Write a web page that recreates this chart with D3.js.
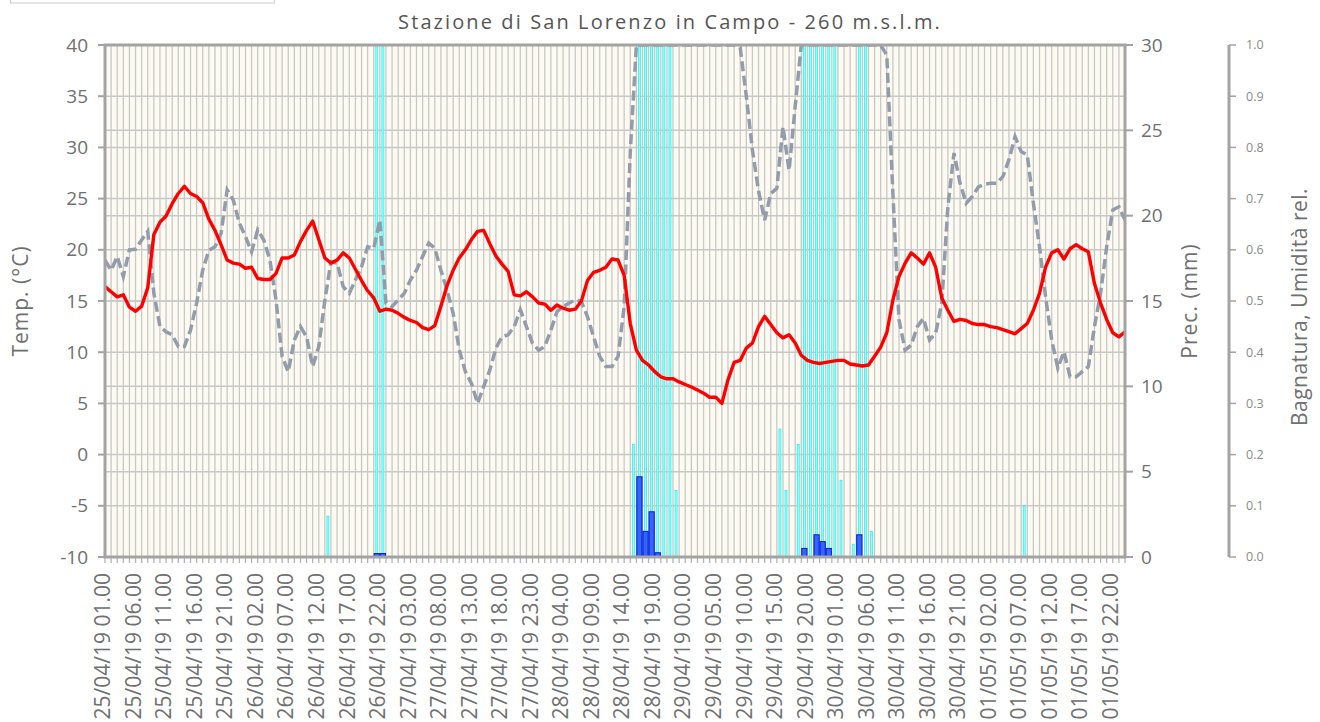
<!DOCTYPE html>
<html>
<head>
<meta charset="utf-8">
<script src="https://cdn.jsdelivr.net/npm/d3@7"></script>
<style>
  body { margin: 0; background: #fff; }
  text { font-family: "Open Sans", sans-serif; }
</style>
</head>
<body>
<div id="chart"></div>
<script>
// hourly readings from 25/04/19 01.00 to 02/05/19 00.00
var temperature = [
  16.4, 15.9, 15.4, 15.6, 14.4, 14.0, 14.5, 16.3, 21.5, 22.7,
  23.3, 24.5, 25.5, 26.2, 25.5, 25.2, 24.6, 23.0, 21.9, 20.5,
  19.0, 18.7, 18.6, 18.2, 18.3, 17.2, 17.1, 17.1, 17.7, 19.2,
  19.2, 19.5, 20.8, 21.9, 22.8, 21.0, 19.2, 18.7, 19.0, 19.7,
  19.2, 18.1, 17.0, 16.0, 15.3, 14.0, 14.2, 14.1, 13.8, 13.4,
  13.1, 12.9, 12.4, 12.2, 12.6, 14.5, 16.5, 18.0, 19.2, 20.0,
  21.0, 21.8, 21.9, 20.6, 19.4, 18.6, 17.9, 15.6, 15.5, 15.9,
  15.4, 14.8, 14.7, 14.1, 14.6, 14.3, 14.1, 14.2, 15.0, 17.0,
  17.8, 18.0, 18.3, 19.1, 19.0, 17.5, 12.8, 10.2, 9.2, 8.75,
  8.1, 7.6, 7.4, 7.4, 7.1, 6.85, 6.6, 6.3, 6.0, 5.6,
  5.6, 5.0, 7.3, 9.0, 9.2, 10.4, 10.9, 12.5, 13.5, 12.7,
  11.9, 11.4, 11.7, 10.9, 9.7, 9.2, 9.0, 8.9, 9.0, 9.1,
  9.2, 9.2, 8.85, 8.75, 8.65, 8.75, 9.6, 10.5, 11.9, 15.1,
  17.4, 18.7, 19.7, 19.2, 18.6, 19.7, 18.3, 15.3, 14.1, 13.0,
  13.2, 13.1, 12.8, 12.7, 12.7, 12.5, 12.4, 12.2, 12.0, 11.8,
  12.3, 12.8, 14.1, 15.75, 18.3, 19.7, 20.0, 19.1, 20.1, 20.5,
  20.1, 19.8, 16.7, 14.8, 13.2, 11.9, 11.5, 12.0
];

var humidity = [
  0.58, 0.56, 0.587, 0.548, 0.60, 0.601, 0.619, 0.636, 0.515, 0.45,
  0.44, 0.434, 0.411, 0.411, 0.443, 0.496, 0.56, 0.599, 0.606, 0.632,
  0.717, 0.697, 0.652, 0.626, 0.596, 0.639, 0.619, 0.58, 0.502, 0.392,
  0.362, 0.424, 0.45, 0.43, 0.372, 0.411, 0.502, 0.577, 0.574, 0.528,
  0.515, 0.541, 0.567, 0.606, 0.603, 0.658, 0.496, 0.489, 0.502, 0.515,
  0.541, 0.56, 0.587, 0.613, 0.603, 0.56, 0.521, 0.476, 0.405, 0.362,
  0.339, 0.30, 0.333, 0.365, 0.408, 0.43, 0.434, 0.45, 0.483, 0.45,
  0.417, 0.404, 0.411, 0.443, 0.479, 0.489, 0.496, 0.502, 0.499, 0.469,
  0.43, 0.392, 0.372, 0.372, 0.392, 0.489, 0.79, 1.0, 1.0, 1.0,
  1.0, 1.0, 1.0, 1.0, 1.0, 1.0, 1.0, 1.0, 1.0, 1.0,
  1.0, 1.0, 1.0, 1.0, 0.995, 0.90, 0.795, 0.715, 0.658, 0.71,
  0.72, 0.84, 0.755, 0.88, 1.0, 1.0, 1.0, 1.0, 1.0, 1.0,
  1.0, 1.0, 1.0, 1.0, 1.0, 1.0, 1.0, 1.0, 0.98, 0.71,
  0.463, 0.404, 0.414, 0.45, 0.466, 0.424, 0.437, 0.496, 0.684, 0.789,
  0.73, 0.691, 0.704, 0.723, 0.728, 0.73, 0.73, 0.743, 0.776, 0.821,
  0.792, 0.785, 0.691, 0.606, 0.508, 0.424, 0.369, 0.401, 0.352, 0.352,
  0.362, 0.372, 0.45, 0.515, 0.606, 0.678, 0.684, 0.658
];

// leaf wetness (0-1), only the hours where it is not zero
var wetHours  = [36, 44, 45, 86, 87, 88, 89, 90, 91, 92, 93, 110, 111, 113, 114, 115, 116, 117, 118, 119, 120, 122, 123, 124, 125, 150];
var wetValues = [0.08, 1, 1, 0.22, 1, 1, 1, 1, 1, 1, 0.13, 0.25, 0.13, 0.22, 1, 1, 1, 1, 1, 1, 0.15, 0.025, 1, 1, 0.05, 0.1];

// rain (mm), only the hours where it is not zero
var rainHours  = [44, 45, 87, 88, 89, 90, 114, 116, 117, 118, 123];
var rainValues = [0.2, 0.2, 4.7, 1.5, 2.65, 0.25, 0.5, 1.3, 0.9, 0.5, 1.3];

var tickLabels = [
  "25/04/19 01.00", "25/04/19 06.00", "25/04/19 11.00", "25/04/19 16.00", "25/04/19 21.00",
  "26/04/19 02.00", "26/04/19 07.00", "26/04/19 12.00", "26/04/19 17.00", "26/04/19 22.00",
  "27/04/19 03.00", "27/04/19 08.00", "27/04/19 13.00", "27/04/19 18.00", "27/04/19 23.00",
  "28/04/19 04.00", "28/04/19 09.00", "28/04/19 14.00", "28/04/19 19.00", "29/04/19 00.00",
  "29/04/19 05.00", "29/04/19 10.00", "29/04/19 15.00", "29/04/19 20.00", "30/04/19 01.00",
  "30/04/19 06.00", "30/04/19 11.00", "30/04/19 16.00", "30/04/19 21.00", "01/05/19 02.00",
  "01/05/19 07.00", "01/05/19 12.00", "01/05/19 17.00", "01/05/19 22.00"
];
var tempTicks = [-10, -5, 0, 5, 10, 15, 20, 25, 30, 35, 40];
var rainTicks = [0, 5, 10, 15, 20, 25, 30];
var wetTicks = [0, 0.1, 0.2, 0.3, 0.4, 0.5, 0.6, 0.7, 0.8, 0.9, 1.0];

var title = "Stazione di San Lorenzo in Campo - 260 m.s.l.m.";

// layout
var W = 1320, H = 722;
var plotL = 105, plotR = 1125, plotT = 45, plotB = 557;
var axis3X = 1229;
var axisGrey = "#a3a3a3", textGrey = "#707070";

var hours = d3.utcHour.range(new Date(Date.UTC(2019, 3, 25, 1)), new Date(Date.UTC(2019, 4, 2, 1)));
var parseLabel = d3.utcParse("%d/%m/%y %H.%M");

var x = d3.scaleUtc().domain([hours[0], hours[hours.length - 1]]).range([plotL, plotR]);
var yT = d3.scaleLinear().domain([-10, 40]).range([plotB, plotT]);
var yR = d3.scaleLinear().domain([0, 30]).range([plotB, plotT]);
var yW = d3.scaleLinear().domain([0, 1]).range([plotB, plotT]);

var barMid = function(i) { return x(d3.utcMinute.offset(hours[i], 30)); };

var svg = d3.select("#chart").append("svg")
  .attr("width", W).attr("height", H);

// box partly hidden at the top left
svg.append("rect").attr("x", 10.5).attr("y", -12).attr("width", 264).attr("height", 15)
  .attr("fill", "#fff").attr("stroke", "#ccc");

svg.append("text")
  .attr("x", 670).attr("y", 29)
  .attr("text-anchor", "middle")
  .attr("fill", "#555").style("font-size", "20px").style("letter-spacing", "2.1px")
  .text(title);

svg.append("defs").append("clipPath").attr("id", "plot")
  .append("rect").attr("x", plotL).attr("y", plotT).attr("width", plotR - plotL).attr("height", plotB - plotT);

// plot background + grid
svg.append("rect").attr("x", plotL).attr("y", plotT).attr("width", plotR - plotL).attr("height", plotB - plotT)
  .attr("fill", "#fdfbf1");

var grid = svg.append("g");
grid.selectAll(".vg").data(hours).enter().append("line")
  .attr("x1", function(d) { return x(d); }).attr("x2", function(d) { return x(d); })
  .attr("y1", plotT).attr("y2", plotB)
  .attr("stroke", "#c8c8c8").attr("stroke-width", 1.3);
grid.selectAll(".hg").data(tempTicks).enter().append("line")
  .attr("x1", plotL).attr("x2", plotR)
  .attr("y1", function(d) { return yT(d); }).attr("y2", function(d) { return yT(d); })
  .attr("stroke", "#c8c8c8").attr("stroke-width", 1.5);
grid.selectAll(".hg2").data(rainTicks).enter().append("line")
  .attr("x1", plotL).attr("x2", plotR)
  .attr("y1", function(d) { return yR(d); }).attr("y2", function(d) { return yR(d); })
  .attr("stroke", "#c8c8c8").attr("stroke-width", 1.5);

// hourly ticks under the axis
svg.append("g").selectAll("line").data(hours).enter().append("line")
  .attr("x1", function(d) { return x(d); }).attr("x2", function(d) { return x(d); })
  .attr("y1", plotB).attr("y2", plotB + 6)
  .attr("stroke", "#b4b4b4").attr("stroke-width", 1.3);

var plot = svg.append("g").attr("clip-path", "url(#plot)");

// wetness bars
plot.selectAll(".wet").data(wetHours).enter().append("rect")
  .attr("x", function(d) { return barMid(d) - 1; })
  .attr("width", 2)
  .attr("y", function(d, i) { return yW(wetValues[i]); })
  .attr("height", function(d, i) { return plotB - yW(wetValues[i]); })
  .attr("fill", "#9ffcfc").attr("stroke", "#10f4f4").attr("stroke-width", 0.7);

// rain bars
plot.selectAll(".rain").data(rainHours).enter().append("rect")
  .attr("x", function(d) { return barMid(d) - 2.6; })
  .attr("width", 5.2)
  .attr("y", function(d, i) { return yR(rainValues[i]); })
  .attr("height", function(d, i) { return plotB - yR(rainValues[i]); })
  .attr("fill", "#3366ff").attr("stroke", "#0018d8").attr("stroke-width", 1);

// humidity
plot.append("path")
  .datum(humidity)
  .attr("fill", "none").attr("stroke", "#939cab").attr("stroke-width", 3.5)
  .attr("stroke-dasharray", "10,4.5")
  .attr("d", d3.line().x(function(d, i) { return x(hours[i]); }).y(function(d) { return yW(d); }));

// temperature
plot.append("path")
  .datum(temperature)
  .attr("fill", "none").attr("stroke", "#ff0000").attr("stroke-width", 3.4)
  .attr("stroke-linejoin", "round")
  .attr("d", d3.line().x(function(d, i) { return x(hours[i]); }).y(function(d) { return yT(d); }));

// frame
svg.append("rect").attr("x", plotL).attr("y", plotT).attr("width", plotR - plotL).attr("height", plotB - plotT)
  .attr("fill", "none").attr("stroke", axisGrey).attr("stroke-width", 3);

// left axis
var gl = svg.append("g");
gl.selectAll("line").data(tempTicks).enter().append("line")
  .attr("x1", plotL - 7).attr("x2", plotL)
  .attr("y1", function(d) { return yT(d); }).attr("y2", function(d) { return yT(d); })
  .attr("stroke", axisGrey).attr("stroke-width", 2);
gl.selectAll("text").data(tempTicks).enter().append("text")
  .attr("x", plotL - 17).attr("y", function(d) { return yT(d); }).attr("dy", "0.35em")
  .attr("text-anchor", "end").attr("fill", textGrey).style("font-size", "19px")
  .text(function(d) { return d; });
svg.append("text")
  .attr("transform", "translate(28," + ((plotT + plotB) / 2) + ") rotate(-90)")
  .attr("text-anchor", "middle").attr("fill", textGrey)
  .style("font-size", "21px").style("letter-spacing", "1px")
  .text("Temp. (°C)");

// right axis (rain)
var gr = svg.append("g");
gr.selectAll("line").data(rainTicks).enter().append("line")
  .attr("x1", plotR).attr("x2", plotR + 8)
  .attr("y1", function(d) { return yR(d); }).attr("y2", function(d) { return yR(d); })
  .attr("stroke", axisGrey).attr("stroke-width", 2);
gr.selectAll("text").data(rainTicks).enter().append("text")
  .attr("x", plotR + 16).attr("y", function(d) { return yR(d); }).attr("dy", "0.35em")
  .attr("fill", textGrey).style("font-size", "19px")
  .text(function(d) { return d; });
svg.append("text")
  .attr("transform", "translate(1197," + ((plotT + plotB) / 2) + ") rotate(-90)")
  .attr("text-anchor", "middle").attr("fill", textGrey)
  .style("font-size", "21px").style("letter-spacing", "1px")
  .text("Prec. (mm)");

// third axis (wetness, humidity)
var gw = svg.append("g");
gw.append("line").attr("x1", axis3X).attr("x2", axis3X).attr("y1", plotT).attr("y2", plotB)
  .attr("stroke", axisGrey).attr("stroke-width", 3);
gw.selectAll("line.t").data(wetTicks).enter().append("line")
  .attr("class", "t")
  .attr("x1", axis3X).attr("x2", axis3X + 7)
  .attr("y1", function(d) { return yW(d); }).attr("y2", function(d) { return yW(d); })
  .attr("stroke", axisGrey).attr("stroke-width", 1.5);
gw.selectAll("text").data(wetTicks).enter().append("text")
  .attr("x", axis3X + 17).attr("y", function(d) { return yW(d); }).attr("dy", "0.35em")
  .attr("fill", "#8a8a8a").style("font-size", "12.5px")
  .text(d3.format(".1f"));
svg.append("text")
  .attr("transform", "translate(1307,307) rotate(-90)")
  .attr("text-anchor", "middle").attr("fill", textGrey)
  .style("font-size", "21px").style("letter-spacing", "0.5px")
  .text("Bagnatura, Umidità rel.");

// bottom labels
svg.append("g").selectAll("text").data(tickLabels).enter().append("text")
  .attr("transform", function(d) { return "translate(" + x(parseLabel(d)) + "," + (plotB + 16) + ") rotate(-90)"; })
  .attr("dy", "0.25em")
  .attr("text-anchor", "end").attr("fill", textGrey).style("font-size", "21px")
  .text(function(d) { return d; });
</script>
</body>
</html>
